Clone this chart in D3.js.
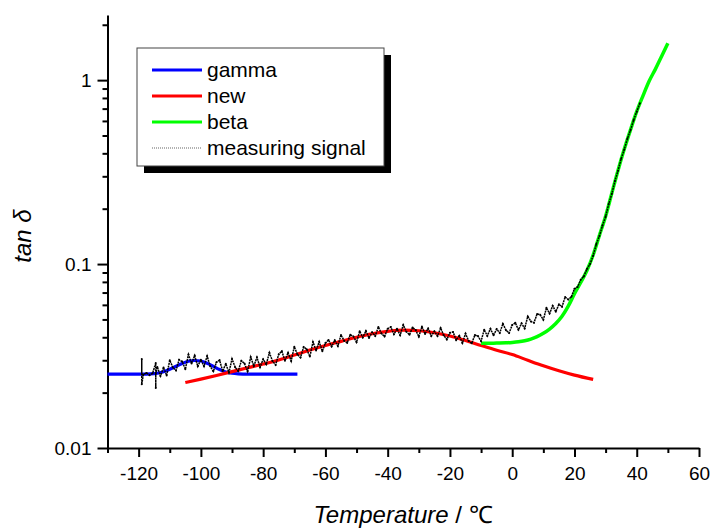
<!DOCTYPE html>
<html>
<head>
<meta charset="utf-8">
<script src="https://cdn.jsdelivr.net/npm/d3@7"></script>
<style>
  body { margin: 0; background: #fff; }
  svg { display: block; font-family: "Liberation Sans", Arial, sans-serif; }
</style>
</head>
<body>
<svg id="chart"></svg>
<script>
// Chart size
const width = 712;
const height = 530;

// gamma relaxation fit
const gammaTemp = [-130, -120, -115, -112, -110, -108, -106, -104, -102, -100, -98, -96, -94, -92, -90, -88, -85, -69];
const gammaVal = [0.0252, 0.0252, 0.0254, 0.0260, 0.0268, 0.0278, 0.0288, 0.0296, 0.0299, 0.0297, 0.0289, 0.0278, 0.0267, 0.0259, 0.0255, 0.0253, 0.0252, 0.0252];

// "new" relaxation fit
const newTemp = [-105, -100, -95, -90, -85, -80, -75, -70, -65, -60, -55, -50, -45, -40, -35, -30, -25, -20, -15, -10, -5, 0, 5, 10, 15, 20, 26];
const newVal = [0.0227, 0.0237, 0.0248, 0.0260, 0.0273, 0.0286, 0.0301, 0.0320, 0.0341, 0.0361, 0.0380, 0.0400, 0.0418, 0.0431, 0.0437, 0.0434, 0.0423, 0.0406, 0.0384, 0.0361, 0.0340, 0.0322, 0.0300, 0.0280, 0.0263, 0.0249, 0.0236];

// beta relaxation fit
const betaTemp = [-10, -8, -5, -2, 0, 2, 4, 6, 8, 10, 12, 14, 16, 18, 20, 22, 24, 26, 28, 30, 32, 34, 36, 38, 40, 42, 44, 46, 48, 50];
const betaVal = [0.0371, 0.0371, 0.0372, 0.0373, 0.0375, 0.0378, 0.0383, 0.0391, 0.0403, 0.0420, 0.0443, 0.0475, 0.0520, 0.0590, 0.0690, 0.0794, 0.0923, 0.112, 0.143, 0.182, 0.243, 0.324, 0.422, 0.537, 0.676, 0.822, 0.989, 1.148, 1.349, 1.585];

// measuring signal: start with the two spikes, then one reading per degree from -114 to 41
const signalHeadTemp = [-119, -119, -119, -118.5, -117.5, -116.5, -115.5, -114.5, -114.5, -114.5];
const signalHeadVal = [0.0252, 0.0305, 0.0222, 0.0250, 0.0256, 0.0249, 0.0255, 0.0290, 0.0212, 0.0255];
const signalTemp = d3.range(-114, 42);
const signalVal = [
  0.0276, 0.0246, 0.0274, 0.0248, 0.0300, 0.0274, 0.0264, 0.0302, 0.0295, 0.0268,
  0.0322, 0.0288, 0.0318, 0.0278, 0.0302, 0.0278, 0.0316, 0.0278, 0.0261, 0.0293,
  0.0300, 0.0262, 0.0287, 0.0257, 0.0305, 0.0275, 0.0262, 0.0298, 0.0288, 0.0261,
  0.0312, 0.0279, 0.0311, 0.0275, 0.0304, 0.0285, 0.0330, 0.0297, 0.0283, 0.0323,
  0.0336, 0.0298, 0.0330, 0.0297, 0.0355, 0.0323, 0.0310, 0.0354, 0.0344, 0.0314,
  0.0377, 0.0339, 0.0378, 0.0336, 0.0372, 0.0387, 0.0356, 0.0385, 0.0358, 0.0412,
  0.0383, 0.0373, 0.0413, 0.0404, 0.0376, 0.0431, 0.0399, 0.0433, 0.0396, 0.0426,
  0.0406, 0.0455, 0.0419, 0.0404, 0.0445, 0.0455, 0.0415, 0.0445, 0.0410, 0.0467,
  0.0429, 0.0413, 0.0452, 0.0438, 0.0403, 0.0457, 0.0417, 0.0447, 0.0406, 0.0431,
  0.0406, 0.0449, 0.0410, 0.0389, 0.0423, 0.0427, 0.0386, 0.0408, 0.0372, 0.0419,
  0.0382, 0.0371, 0.0411, 0.0406, 0.0381, 0.0440, 0.0407, 0.0445, 0.0410, 0.0443,
  0.0422, 0.0474, 0.0437, 0.0422, 0.0466, 0.0479, 0.0439, 0.0476, 0.0447, 0.0519,
  0.0488, 0.0480, 0.0536, 0.0530, 0.0498, 0.0578, 0.0538, 0.0593, 0.0551, 0.0604,
  0.0586, 0.0662, 0.0642, 0.0664, 0.0734, 0.0751, 0.0822, 0.0857, 0.0939, 0.1000,
  0.111, 0.128, 0.142, 0.162, 0.181, 0.212, 0.241, 0.283, 0.322, 0.374,
  0.420, 0.480, 0.535, 0.606, 0.674, 0.748
];

// Tick values
const xMajorTicks = [-120, -100, -80, -60, -40, -20, 0, 20, 40, 60];
const xMinorTicks = [-130, -110, -90, -70, -50, -30, -10, 10, 30, 50];
const yMajorTicks = [0.01, 0.1, 1];
const yTickLabels = ["0.01", "0.1", "1"];
const yMinorTicks = [0.02, 0.03, 0.04, 0.05, 0.06, 0.07, 0.08, 0.09, 0.2, 0.3, 0.4, 0.5, 0.6, 0.7, 0.8, 0.9, 2];

// Legend entries
const legendNames = ["gamma", "new", "beta", "measuring signal"];
const legendColors = ["#0000ff", "#ff0000", "#00ff00", "#000"];

const svg = d3.select("#chart")
  .attr("width", width)
  .attr("height", height);

// Scales
const x = d3.scaleLinear().domain([-130, 60]).range([107.5, 699]);
const y = d3.scaleLog().domain([0.01, 2.26]).range([448, 15]);

// Axes
function styleAxis(g) {
  g.selectAll("path, line").attr("stroke", "#000").attr("stroke-width", 2);
  g.selectAll("text").attr("fill", "#000").style("font-size", "19px");
}

svg.append("g")
  .attr("transform", "translate(0,448)")
  .call(d3.axisBottom(x).tickValues(xMinorTicks).tickSize(5).tickSizeOuter(0).tickFormat(""))
  .call(styleAxis);

svg.append("g")
  .attr("transform", "translate(0,448)")
  .call(d3.axisBottom(x).tickValues(xMajorTicks).tickSize(9).tickSizeOuter(0).tickPadding(10).tickFormat(d => String(d)))
  .call(styleAxis)
  .call(g => g.select(".domain").remove());

svg.append("g")
  .attr("transform", "translate(107.5,0)")
  .call(d3.axisLeft(y).tickValues(yMinorTicks).tickSize(5).tickSizeOuter(0).tickFormat(""))
  .call(styleAxis);

svg.append("g")
  .attr("transform", "translate(107.5,0)")
  .call(d3.axisLeft(y).tickValues(yMajorTicks).tickSize(10).tickSizeOuter(0).tickPadding(6)
    .tickFormat((d, i) => yTickLabels[i]))
  .call(styleAxis)
  .call(g => g.select(".domain").remove());

// Axis titles
svg.append("text")
  .attr("x", 403)
  .attr("y", 523)
  .attr("text-anchor", "middle")
  .style("font-size", "24px")
  .call(t => {
    t.append("tspan").style("font-style", "italic").text("Temperature");
    t.append("tspan").text(" / \u2103");
  });

svg.append("text")
  .attr("transform", "translate(31,236) rotate(-90)")
  .attr("text-anchor", "middle")
  .style("font-size", "24px")
  .style("font-style", "italic")
  .text("tan \u03b4");

// Line generator
const line = d3.line()
  .x(d => x(d[0]))
  .y(d => y(d[1]));

const zip = (a, b) => a.map((t, i) => [t, b[i]]);

svg.append("path")
  .datum(zip(gammaTemp, gammaVal))
  .attr("fill", "none")
  .attr("stroke", legendColors[0])
  .attr("stroke-width", 3.2)
  .attr("d", line.curve(d3.curveMonotoneX));

svg.append("path")
  .datum(zip(newTemp, newVal))
  .attr("fill", "none")
  .attr("stroke", legendColors[1])
  .attr("stroke-width", 3.2)
  .attr("d", line.curve(d3.curveMonotoneX));

svg.append("path")
  .datum(zip(betaTemp, betaVal))
  .attr("fill", "none")
  .attr("stroke", legendColors[2])
  .attr("stroke-width", 3.5)
  .attr("d", line.curve(d3.curveMonotoneX));

// measuring signal, dense dotted trace on top
const signal = zip(signalHeadTemp, signalHeadVal).concat(zip(signalTemp, signalVal));
svg.append("path")
  .datum(signal)
  .attr("fill", "none")
  .attr("stroke", "#000")
  .attr("stroke-width", 1.5)
  .attr("stroke-dasharray", "2,0.7")
  .attr("d", line.curve(d3.curveLinear));

svg.append("g")
  .selectAll("circle")
  .data(signal)
  .join("circle")
  .attr("cx", d => x(d[0]))
  .attr("cy", d => y(d[1]))
  .attr("r", 1)
  .attr("fill", "#000");

// Legend with drop shadow
const legend = svg.append("g").attr("transform", "translate(137,48)");

legend.append("rect")
  .attr("x", 7).attr("y", 7)
  .attr("width", 247).attr("height", 118)
  .attr("fill", "#000");

legend.append("rect")
  .attr("width", 247).attr("height", 118)
  .attr("fill", "#fff")
  .attr("stroke", "#444")
  .attr("stroke-width", 1);

legendNames.forEach((name, i) => {
  const row = legend.append("g").attr("transform", `translate(0,${22 + i * 26})`);
  row.append("line")
    .attr("x1", 15).attr("x2", 65)
    .attr("stroke", legendColors[i])
    .attr("stroke-width", i === 3 ? 1 : 3)
    .attr("stroke-dasharray", i === 3 ? "1,1" : null)
    .attr("opacity", i === 3 ? 0.6 : 1);
  row.append("text")
    .attr("x", 70)
    .attr("y", 7)
    .style("font-size", "21px")
    .text(name);
});
</script>
</body>
</html>
